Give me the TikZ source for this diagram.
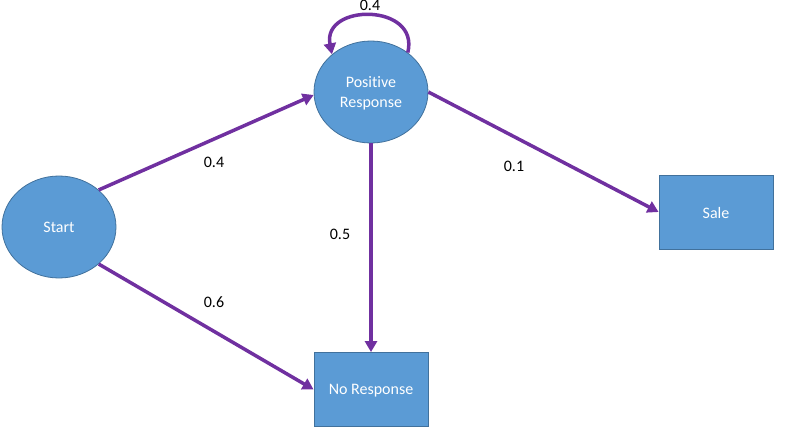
\documentclass[tikz,border=0pt]{standalone}
\usepackage{fontspec}
\setmainfont{Carlito}[Ligatures={NoCommon}]
\usetikzlibrary{arrows.meta,shapes.geometric}
\definecolor{nodefill}{HTML}{5B9BD5}
\definecolor{nodedraw}{HTML}{41719C}
\definecolor{arrowcol}{HTML}{7030A0}
\tikzset{
  stateell/.style={ellipse,draw=nodedraw,line width=0.8pt,fill=nodefill,text=white,
    minimum width=114pt,minimum height=102pt,inner sep=0pt,align=center,font=\fontsize{16}{19.5}\selectfont},
  staterect/.style={rectangle,draw=nodedraw,line width=0.8pt,fill=nodefill,text=white,
    minimum width=114pt,minimum height=74pt,inner sep=0pt,align=center,font=\fontsize{16}{19.5}\selectfont},
  flow/.style={draw=arrowcol,line width=3.5pt,-{Triangle[length=11pt,width=12pt]}},
  prob/.style={font=\fontsize{16}{19}\selectfont,inner sep=0pt}
}
\begin{document}
\begin{tikzpicture}[x=1pt,y=-1pt]
\useasboundingbox (0,0) rectangle (790,431);
\node[stateell] (st) at (59,227) {Start};
\node[stateell] (pr) at (371,92) {};
\node[font=\fontsize{16}{19.5}\selectfont,text=white,align=center,inner sep=0pt] (prt) at (371,93.5) {Positive\\Response};
\node[staterect] (nr) at (371,389.5) {};
\node[font=\fontsize{16}{19.5}\selectfont,text=white,inner sep=0pt] (nrt) at (371,391) {No Response};
\node[staterect] (sa) at (716,212) {};
\node[font=\fontsize{16}{19.5}\selectfont,text=white,inner sep=0pt] (sat) at (716,213.5) {Sale};
\draw[flow] (st.43) -- (pr.183);
\draw[flow] (st.-43) -- (nr.west);
\draw[flow] (pr.south) -- (nr.north);
\draw[flow] (pr.east) -- (sa.west);
\draw[flow] (pr.47) .. controls (420,3) and (322,3) .. (pr.136);
\node[prob] (p1) at (214,162) {0.4};
\node[prob] (p2) at (214,302) {0.6};
\node[prob] (p3) at (340,234) {0.5};
\node[prob] (p4) at (514,166) {0.1};
\node[prob] (p5) at (370,5) {0.4};
\end{tikzpicture}
\end{document}
